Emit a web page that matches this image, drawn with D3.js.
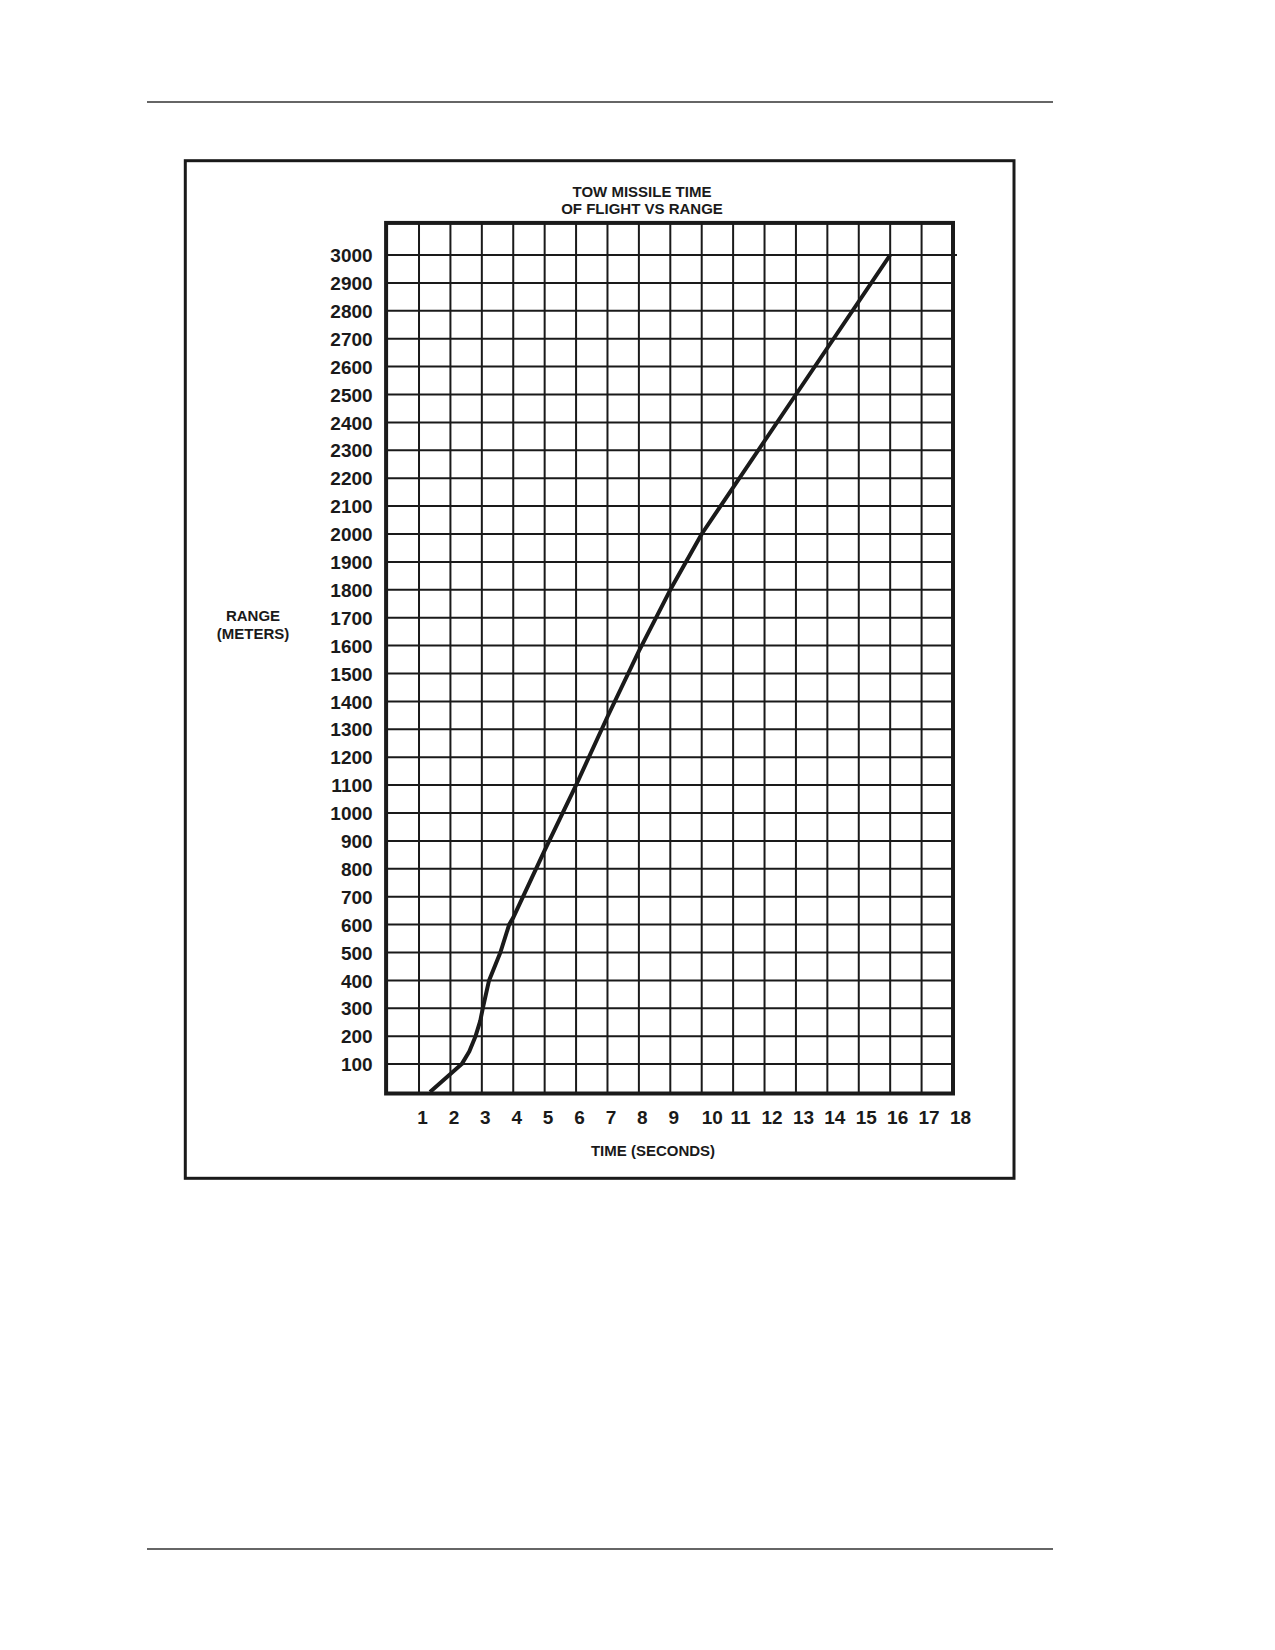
<!DOCTYPE html>
<html>
<head>
<meta charset="utf-8">
<script src="https://cdn.jsdelivr.net/npm/d3@7"></script>
<style>
  html, body { margin: 0; padding: 0; background: #fff; }
  svg { display: block; }
  text { font-family: "Liberation Sans", Arial, sans-serif; font-weight: bold; fill: #1a1a1a; }
</style>
</head>
<body>
<svg id="chart" width="1275" height="1650"></svg>
<script>
// ---- data ----
const titleLines = ["TOW MISSILE TIME", "OF FLIGHT VS RANGE"];
const yTitleLines = ["RANGE", "(METERS)"];
const xTitle = "TIME (SECONDS)";
const xTicks = [1, 2, 3, 4, 5, 6, 7, 8, 9, 10, 11, 12, 13, 14, 15, 16, 17, 18];
const yTicks = [100, 200, 300, 400, 500, 600, 700, 800, 900, 1000, 1100, 1200, 1300, 1400, 1500,
                1600, 1700, 1800, 1900, 2000, 2100, 2200, 2300, 2400, 2500, 2600, 2700, 2800, 2900, 3000];
const xMax = 18;
const yMax = 3115;
// time of flight (s) vs range (m)
const timeSeconds = [1.35, 2.36, 2.6, 2.8, 2.95, 3.03, 3.23, 3.59, 3.87, 4.0, 5.0, 6.0, 7.0, 8.0, 9.0, 10.0, 13.0, 16.0];
const rangeMeters = [0, 100, 145, 200, 255, 300, 400, 500, 600, 625, 866, 1100, 1345, 1580, 1800, 2000, 2500, 3000];

// ---- layout ----
const svg = d3.select("#chart");
const x = d3.scaleLinear().domain([0, 18]).range([387.6, 953]);
const y = d3.scaleLinear().domain([0, 3000]).range([1092, 255]);
const ink = "#1a1a1a";

// page rules
svg.append("line").attr("x1", 147).attr("x2", 1053).attr("y1", 102).attr("y2", 102)
  .attr("stroke", "#333").attr("stroke-width", 1.6);
svg.append("line").attr("x1", 147).attr("x2", 1053).attr("y1", 1549).attr("y2", 1549)
  .attr("stroke", "#333").attr("stroke-width", 1.6);

// outer box
svg.append("rect").attr("x", 185.3).attr("y", 160.7).attr("width", 1014 - 185.3).attr("height", 1178.3 - 160.7)
  .attr("fill", "none").attr("stroke", ink).attr("stroke-width", 3);

// grid
const grid = svg.append("g").attr("stroke", ink).attr("stroke-width", 2);
grid.selectAll("line.v").data(xTicks.filter(d => d < xMax)).join("line")
  .attr("class", "v")
  .attr("x1", d => x(d)).attr("x2", d => x(d))
  .attr("y1", y(yMax)).attr("y2", y(0));
grid.selectAll("line.h").data(yTicks).join("line")
  .attr("class", "h")
  .attr("x1", x(0)).attr("x2", d => d === 3000 ? x(xMax) + 4 : x(xMax))
  .attr("y1", d => y(d)).attr("y2", d => y(d));

// frame
svg.append("rect")
  .attr("x", x(0) - 1.5).attr("y", y(yMax))
  .attr("width", x(xMax) - x(0) + 1.5).attr("height", y(0) - y(yMax) + 1.5)
  .attr("fill", "none").attr("stroke", ink).attr("stroke-width", 4);

// curve
const pts = timeSeconds.map((t, i) => [t, rangeMeters[i]]);
svg.append("path").datum(pts)
  .attr("fill", "none").attr("stroke", ink).attr("stroke-width", 4)
  .attr("stroke-linejoin", "round").attr("stroke-linecap", "butt")
  .attr("d", d3.line().x(d => x(d[0])).y(d => y(d[1])).curve(d3.curveLinear));

// y axis labels
const yAxis = svg.append("g").attr("transform", `translate(${x(0) - 15},0)`)
  .call(d3.axisLeft(y).tickValues(yTicks).tickSize(0).tickPadding(0).tickFormat(d3.format("d")));
yAxis.select(".domain").remove();
yAxis.selectAll("text").style("font-size", "19px").style("font-family", "'Liberation Sans', Arial, sans-serif")
  .attr("fill", ink).attr("dy", "0.35em");

// x axis labels
const xAxis = svg.append("g").attr("transform", `translate(0,1124)`)
  .call(d3.axisBottom(x).tickValues(xTicks).tickSize(0).tickPadding(0).tickFormat(d3.format("d")));
xAxis.select(".domain").remove();
xAxis.selectAll("text").style("font-size", "19px").style("font-family", "'Liberation Sans', Arial, sans-serif")
  .attr("fill", ink).attr("dy", 0)
  .attr("dx", d => (d >= 10 ? (d === 10 ? 10 : 7) : 3));

// titles
svg.append("g").selectAll("text").data(titleLines).join("text")
  .attr("x", 642).attr("y", (d, i) => 197 + i * 17)
  .attr("text-anchor", "middle").style("font-size", "15px").text(d => d);

svg.append("g").selectAll("text").data(yTitleLines).join("text")
  .attr("x", 253).attr("y", (d, i) => 621 + i * 18)
  .attr("text-anchor", "middle").style("font-size", "15px").text(d => d);

svg.append("text").attr("x", 653).attr("y", 1155.5)
  .attr("text-anchor", "middle").style("font-size", "15px").text(xTitle);
</script>
</body>
</html>
